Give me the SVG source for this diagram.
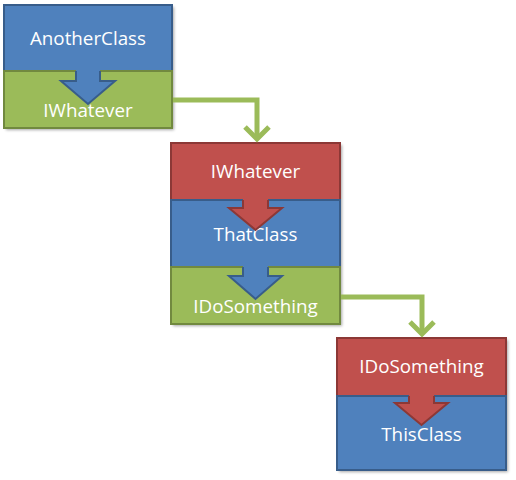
<svg xmlns="http://www.w3.org/2000/svg" width="516" height="480" viewBox="0 0 516 480">
<style>
.blue{fill:#4F81BD;stroke:#385D8A;stroke-width:2}
.green{fill:#9BBB59;stroke:#71893F;stroke-width:2}
.red{fill:#C0504D;stroke:#8C3836;stroke-width:2}
.bluef{fill:#4F81BD}
.redf{fill:#C0504D}
.blueo{fill:none;stroke:#385D8A;stroke-width:2;stroke-linejoin:miter}
.redo{fill:none;stroke:#8C3836;stroke-width:2;stroke-linejoin:miter}
.lbl{font-family:"Open Sans","Liberation Sans",sans-serif;font-size:18.8px;fill:#FFFFFF;text-anchor:middle}
.link{fill:none;stroke:#9BBB59;stroke-width:5;marker-end:url(#chev)}
</style>
<defs>
<filter id="sh" x="-10%" y="-10%" width="130%" height="130%">
<feDropShadow dx="2" dy="2" stdDeviation="1.5" flood-color="#000" flood-opacity="0.35"/>
</filter>
<marker id="chev" markerUnits="userSpaceOnUse" viewBox="-20 -16 26 32" refX="0" refY="0" markerWidth="26" markerHeight="32" orient="auto">
<path d="M-12,-12 L0,0 L-12,12" fill="none" stroke="#9BBB59" stroke-width="5"/>
</marker>
</defs>
<g id="shadows" filter="url(#sh)">
<rect x="4" y="5" width="168" height="123" fill="#888"/>
<rect x="171" y="143" width="169" height="181" fill="#888"/>
<rect x="337" y="338" width="169" height="132" fill="#888"/>
</g>
<g id="anotherclass"><rect class="blue" x="4" y="5" width="168" height="66"/><text class="lbl" x="88" y="45">AnotherClass</text></g>
<g id="iwhatever1"><rect class="green" x="4" y="71" width="168" height="57"/><text class="lbl" x="88" y="117">IWhatever</text></g>
<g id="iwhatever2"><rect class="red" x="171" y="143" width="169" height="57"/><text class="lbl" x="255.5" y="178">IWhatever</text></g>
<g id="thatclass"><rect class="blue" x="171" y="200" width="169" height="67"/><text class="lbl" x="255.5" y="241">ThatClass</text></g>
<g id="idosomething1"><rect class="green" x="171" y="267" width="169" height="57"/><text class="lbl" x="255.5" y="313">IDoSomething</text></g>
<g id="idosomething2"><rect class="red" x="337" y="338" width="169" height="58"/><text class="lbl" x="421.5" y="373">IDoSomething</text></g>
<g id="thisclass"><rect class="blue" x="337" y="396" width="169" height="74"/><text class="lbl" x="421.5" y="441">ThisClass</text></g>
<g id="connectors">
<path class="bluef" d="M76,69 V81 H61 L88,104 L115,81 H100 V69 Z"/>
<path class="blueo" d="M76,71 V81 H61 L88,104 L115,81 H100 V71"/>
<path class="redf" d="M243,198 V208 H229 L255.5,230 L282,208 H268 V198 Z"/>
<path class="redo" d="M243,200 V208 H229 L255.5,230 L282,208 H268 V200"/>
<path class="bluef" d="M243,265 V276 H229 L255.5,299 L282,276 H268 V265 Z"/>
<path class="blueo" d="M243,267 V276 H229 L255.5,299 L282,276 H268 V267"/>
<path class="redf" d="M409,394 V403 H395 L421.5,425 L448,403 H434 V394 Z"/>
<path class="redo" d="M409,396 V403 H395 L421.5,425 L448,403 H434 V396"/>
<path class="link" d="M173,100 H257 V139"/>
<path class="link" d="M341,297 H422 V334"/>
</g>
</svg>
